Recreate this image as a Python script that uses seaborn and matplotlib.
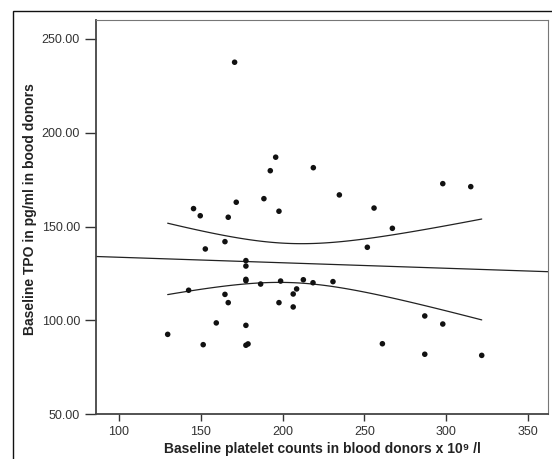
import numpy as np
import pandas as pd
import matplotlib
matplotlib.use("Agg")
import matplotlib.pyplot as plt
import seaborn as sns
from matplotlib.patches import Rectangle
from matplotlib.ticker import FormatStrFormatter

# values
platelets = [170.7, 145.6, 149.7, 166.8, 171.7, 188.6, 192.5, 195.8, 197.8, 218.8,
             234.7, 255.9, 267.1, 251.8, 297.9, 315.0, 164.8, 152.8, 177.6, 177.6,
             177.6, 177.6, 186.6, 198.8, 212.7, 218.6, 230.8, 142.6, 164.8, 166.8,
             206.5, 208.6, 197.8, 206.5, 159.5, 177.6, 129.8, 151.5, 177.6, 178.9,
             286.9, 297.9, 261.0, 286.9, 321.7]
tpo = [237.6, 159.6, 155.8, 155.0, 163.0, 164.9, 179.8, 187.0, 158.2, 181.4,
       166.9, 159.9, 149.1, 139.0, 172.9, 171.3, 142.0, 138.1, 131.9, 129.0,
       121.9, 121.2, 119.4, 121.0, 121.7, 120.1, 120.7, 116.1, 113.9, 109.5,
       114.1, 116.8, 109.5, 107.2, 98.7, 97.4, 92.6, 87.1, 86.8, 87.5,
       102.4, 98.1, 87.6, 82.0, 81.4]
x_ticks = [100, 150, 200, 250, 300, 350]
y_ticks = [50, 100, 150, 200, 250]

df = pd.DataFrame({"plt": platelets, "tpo": tpo})

# linear fit + 95% CI of the mean (lines, SPSS style)
x = df["plt"].to_numpy()
y = df["tpo"].to_numpy()
n = len(x)
b, a = np.polyfit(x, y, 1)
resid = y - (a + b * x)
s = np.sqrt(np.sum(resid ** 2) / (n - 2))
t = 2.017  # t(0.975, df=43)
xlim = (86, 362.2)
xf = np.linspace(xlim[0], xlim[1], 100)
xc = np.linspace(x.min(), x.max(), 100)
se = s * np.sqrt(1 / n + (xc - x.mean()) ** 2 / np.sum((x - x.mean()) ** 2))
yc = a + b * xc

sns.set_style("white")
plt.rcParams["font.family"] = ["Liberation Sans", "DejaVu Sans"]

fig = plt.figure(figsize=(5.52, 4.59), dpi=100)
ax = fig.add_axes([96 / 552, 1 - 414.3 / 459, 452 / 552, 394.3 / 459])

sns.scatterplot(data=df, x="plt", y="tpo", ax=ax, color="#111111", s=16,
                edgecolor="none", zorder=3)
sns.lineplot(x=xf, y=a + b * xf, ax=ax, color="#222222", lw=0.9)
sns.lineplot(x=xc, y=yc + t * se, ax=ax, color="#222222", lw=0.9)
sns.lineplot(x=xc, y=yc - t * se, ax=ax, color="#222222", lw=0.9)

ax.set_xlim(*xlim)
ax.set_ylim(50, 260.1)
ax.set_xticks(x_ticks)
ax.set_yticks(y_ticks)
ax.yaxis.set_major_formatter(FormatStrFormatter("%.2f"))
ax.tick_params(axis="both", labelsize=9, colors="#333333")
ax.tick_params(axis="y", direction="out", length=8, width=1, left=True)
ax.tick_params(axis="x", direction="out", length=5, width=1, bottom=True)

for side in ["top", "right"]:
    ax.spines[side].set_color("#777777")
    ax.spines[side].set_linewidth(0.8)
for side in ["left", "bottom"]:
    ax.spines[side].set_color("#444444")
    ax.spines[side].set_linewidth(1.3)

ax.set_xlabel("Baseline platelet counts in blood donors x 10⁹ /l", fontsize=10,
              fontweight="bold", color="#222222", va="center")
ax.set_ylabel("Baseline TPO in pg/ml in bood donors", fontsize=10,
              fontweight="bold", color="#222222", va="center")
ax.xaxis.set_label_coords(0.5, -0.088)
ax.yaxis.set_label_coords(-0.146, 0.521)

# outer frame
fig.add_artist(Rectangle((13 / 552, -0.05), 1.0, 1 - 10.7 / 459 + 0.05,
                         transform=fig.transFigure, fill=False, lw=1,
                         edgecolor="#111111", clip_on=False))

fig.savefig("out.png", dpi=100)
